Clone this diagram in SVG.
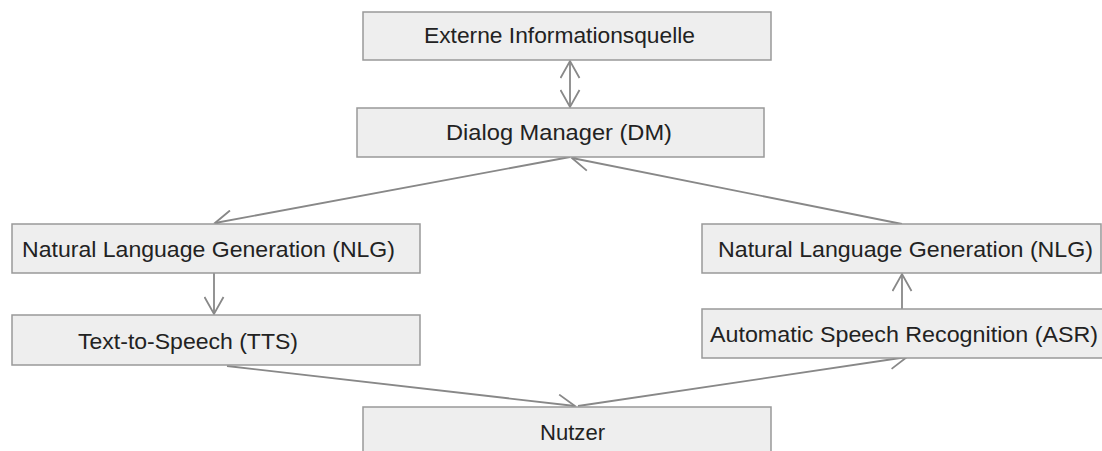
<svg xmlns="http://www.w3.org/2000/svg" width="1102" height="451" viewBox="0 0 1102 451">
<defs>
<style>
.box{fill:#eeeeee;stroke:#999999;stroke-width:1.5}
.lbl{font-family:"Liberation Sans",Arial,sans-serif;font-size:22px;fill:#222222}
.edge{stroke:#888888;stroke-width:1.8;fill:none}
</style>
<marker id="arr" viewBox="-1 -1 20 21" refX="17" refY="9.5" markerWidth="20" markerHeight="21" markerUnits="userSpaceOnUse" orient="auto-start-reverse">
<path d="M0,0 L17,9.5 L0,19" fill="none" stroke="#888888" stroke-width="1.8"/>
</marker>
</defs>
<rect width="1102" height="451" fill="#ffffff"/>
<g id="connectors">
<line class="edge" x1="570" y1="61" x2="570" y2="107" marker-start="url(#arr)" marker-end="url(#arr)"/>
<line class="edge" x1="570" y1="157" x2="215" y2="223" marker-end="url(#arr)"/>
<line class="edge" x1="902" y1="224" x2="572" y2="158" marker-end="url(#arr)"/>
<line class="edge" x1="214" y1="273" x2="214" y2="314" marker-end="url(#arr)"/>
<line class="edge" x1="902" y1="309" x2="902" y2="274" marker-end="url(#arr)"/>
<line class="edge" x1="227" y1="366" x2="575" y2="406" marker-end="url(#arr)"/>
<line class="edge" x1="578" y1="406" x2="907" y2="357" marker-end="url(#arr)"/>
</g>
<g id="externe">
<rect class="box" x="363" y="12" width="408" height="48"/>
<text class="lbl" x="424" y="43" textLength="271" lengthAdjust="spacingAndGlyphs">Externe Informationsquelle</text>
</g>
<g id="dm">
<rect class="box" x="357" y="108" width="407" height="49"/>
<text class="lbl" x="446" y="140" textLength="226" lengthAdjust="spacingAndGlyphs">Dialog Manager (DM)</text>
</g>
<g id="nlg-left">
<rect class="box" x="12" y="224" width="408" height="49"/>
<text class="lbl" x="22" y="257" textLength="373" lengthAdjust="spacingAndGlyphs">Natural Language Generation (NLG)</text>
</g>
<g id="tts">
<rect class="box" x="12" y="315" width="408" height="50"/>
<text class="lbl" x="78" y="349" textLength="220" lengthAdjust="spacingAndGlyphs">Text-to-Speech (TTS)</text>
</g>
<g id="nlg-right">
<rect class="box" x="702" y="224" width="399" height="49"/>
<text class="lbl" x="718" y="257" textLength="375" lengthAdjust="spacingAndGlyphs">Natural Language Generation (NLG)</text>
</g>
<g id="asr">
<rect class="box" x="702" y="309" width="410" height="49"/>
<text class="lbl" x="710" y="342" textLength="388" lengthAdjust="spacingAndGlyphs">Automatic Speech Recognition (ASR)</text>
</g>
<g id="nutzer">
<rect class="box" x="363" y="407" width="408" height="60"/>
<text class="lbl" x="540" y="440" textLength="65" lengthAdjust="spacingAndGlyphs">Nutzer</text>
</g>
</svg>
